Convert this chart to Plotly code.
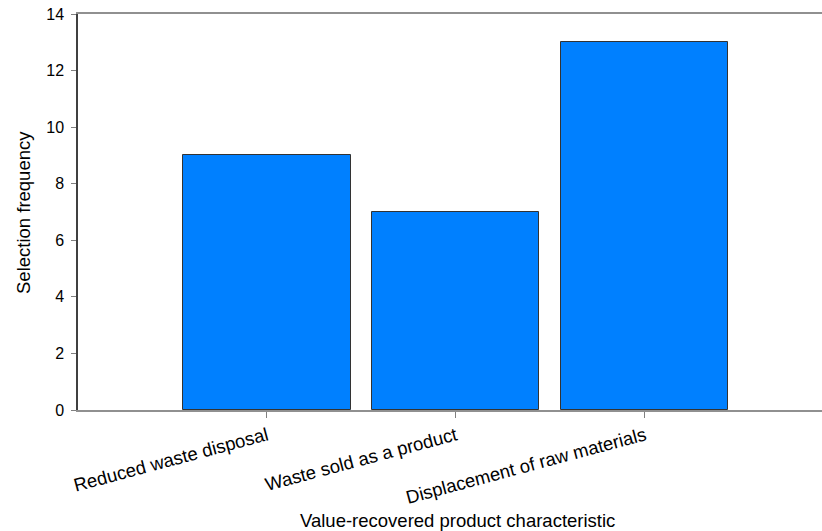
import plotly.graph_objects as go

categories = ["Reduced waste disposal", "Waste sold as a product", "Displacement of raw materials"]
frequency = [9, 7, 13]
y_ticks = [0, 2, 4, 6, 8, 10, 12, 14]
x_title = "Value-recovered product characteristic"
y_title = "Selection frequency"

FONT = "Liberation Sans, Arial, sans-serif"

W, H = 822, 531
L, T = 78, 14
PW, PH = 744, 396
B = H - T - PH

fig = go.Figure()
fig.add_trace(go.Bar(
    x=list(range(len(categories))),
    y=frequency,
    width=0.884,
    marker=dict(color="#0080FF", line=dict(color="#333333", width=1)),
))

fig.update_layout(
    width=W, height=H,
    margin=dict(l=L, r=0, t=T, b=B),
    paper_bgcolor="white", plot_bgcolor="white",
    showlegend=False,
    font=dict(family=FONT, size=18.5, color="#000000"),
    bargap=0,
)
fig.update_xaxes(
    range=[-1, 2.937],
    tickvals=list(range(len(categories))),
    ticktext=categories,
    tickangle=-15,
    ticks="outside", ticklen=6, tickcolor="#808080", tickwidth=1,
    showline=True, linecolor="#909090", linewidth=2, mirror=True,
    showgrid=False, zeroline=False, automargin=False,
    tickfont=dict(size=18.5),
)
fig.update_yaxes(
    range=[0, 14],
    tickvals=y_ticks,
    ticks="outside", ticklen=5, tickcolor="#808080", tickwidth=1,
    showline=True, linecolor="#404040", linewidth=1.5,
    showgrid=False, zeroline=False, automargin=False,
    tickfont=dict(size=16), ticklabelstandoff=4,
)
fig.add_annotation(text=x_title, xref="paper", yref="paper",
                   x=(457.5 - L) / PW, y=-(520 - 410) / PH,
                   xanchor="center", yanchor="middle", showarrow=False,
                   font=dict(size=18.5))
fig.add_annotation(text=y_title, xref="paper", yref="paper",
                   x=(23 - L) / PW, y=(410 - 213) / PH, textangle=-90,
                   xanchor="center", yanchor="middle", showarrow=False,
                   font=dict(size=18.5))

fig.write_html("out.html", config={"displayModeBar": False},
               post_script="document.body.style.margin='0';document.body.style.overflow='hidden';")
